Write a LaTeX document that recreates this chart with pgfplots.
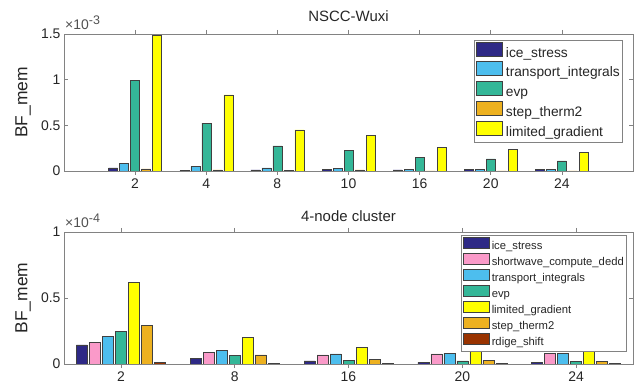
\documentclass[border=0pt]{standalone}
\usepackage{fontspec}
\setmainfont{Liberation Sans}
\usepackage{pgfplots}
\usepackage{pgfplotstable}
\pgfplotsset{compat=1.18}

\definecolor{cice}{RGB}{46,41,134}
\definecolor{ctra}{RGB}{77,190,238}
\definecolor{cevp}{RGB}{52,183,152}
\definecolor{cstep}{RGB}{237,177,32}
\definecolor{clim}{RGB}{255,255,0}
\definecolor{cpink}{RGB}{250,154,201}
\definecolor{crdg}{RGB}{153,51,0}
\definecolor{axgray}{RGB}{130,130,130}
\definecolor{txt}{RGB}{38,38,38}

\pgfplotstableread{
x ice tra evp step lim
1 0.033 0.080 0.990 0.022 1.488
2 0.005 0.050 0.524 0.012 0.834
3 0.012 0.033 0.276 0.010 0.451
4 0.015 0.026 0.227 0.011 0.390
5 0.012 0.020 0.148 0.002 0.260
6 0.018 0.018 0.132 0.001 0.233
7 0.018 0.018 0.110 0.001 0.207
}\topdata

\pgfplotstableread{
x ice pink tra evp lim step rdg
1 0.144 0.161 0.209 0.249 0.620 0.290 0.015
2 0.043 0.088 0.103 0.063 0.204 0.070 0.005
3 0.023 0.070 0.076 0.030 0.128 0.035 0.005
4 0.013 0.076 0.083 0.023 0.123 0.028 0.004
5 0.013 0.078 0.083 0.020 0.113 0.020 0.002
}\botdata

\pgfplotsset{
  mystyle/.style={
    scale only axis, axis on top, ymin=0,
    ybar=2bp,
    tick label style={font=\fontsize{14}{16}\selectfont, text=txt},
    /pgf/number format/assume math mode=true,
    axis line style={draw=axgray, line width=0.6bp},
    tick style={draw=axgray, line width=0.6bp},
    major tick length=4bp,
    ylabel={BF\_mem},
    ylabel style={font=\fontsize{17.5}{20}\selectfont, text=txt, at={(axis description cs:-0.072,0.5)}, anchor=center},
    title style={font=\fontsize{15}{17}\selectfont, text=txt, at={(axis description cs:0.5,1)}, anchor=base},
    every axis plot/.append style={draw=black!75, line width=0.5bp},
    legend cell align=left,
    legend image code/.code={\draw[##1, line width=0.6bp] (0bp,-2.5bp) rectangle (26bp,11.5bp);},
  }
}

\begin{document}
\begin{tikzpicture}
\path[use as bounding box] (0,0) rectangle (636bp,390bp);

\begin{axis}[mystyle, name=top,
  at={(64bp,219bp)}, anchor=south west,
  width=569bp, height=137bp,
  xmin=0, xmax=8, ymax=1.5,
  bar width=9bp,
  xtick={1,...,7}, xticklabels={2,4,8,10,16,20,24},
  ytick={0,0.5,1,1.5}, yticklabels={0,0.5,1,1.5},
  title={NSCC-Wuxi}, title style={yshift=7bp},
  legend style={at={(0.9807,0.956)}, anchor=north east, draw=axgray, fill=white,
    font=\fontsize{13.8}{16}\selectfont, text=txt, inner xsep=2bp, inner ysep=1.5bp,
    row sep=0pt,
    nodes={inner sep=0pt, text height=11.5bp, text depth=4.4bp},
    /tikz/every odd column/.append style={column sep=3bp}},
]
\addplot[fill=cice] table[x=x,y=ice]{\topdata};
\addplot[fill=ctra] table[x=x,y=tra]{\topdata};
\addplot[fill=cevp] table[x=x,y=evp]{\topdata};
\addplot[fill=cstep] table[x=x,y=step]{\topdata};
\addplot[fill=clim] table[x=x,y=lim]{\topdata};
\legend{ice\_stress,transport\_integrals,evp,step\_therm2,limited\_gradient}
\end{axis}
\node[anchor=base west, font=\fontsize{14}{16}\selectfont, text=txt!80, inner sep=0pt, xshift=1bp, yshift=4bp] at (top.north west) {×10\raisebox{5bp}{\fontsize{12.5}{13}\selectfont -3}};

\begin{axis}[mystyle, name=bot,
  at={(64bp,26bp)}, anchor=south west,
  width=569bp, height=132bp,
  xmin=0.5, xmax=5.5, ymax=1,
  bar width=11bp,
  xtick={1,...,5}, xticklabels={2,8,16,20,24},
  ytick={0,0.5,1}, yticklabels={0,0.5,1},
  title={4-node cluster}, title style={yshift=5bp},
  legend image code/.code={\draw[#1, line width=0.6bp] (0bp,-1.7bp) rectangle (26bp,9.3bp);},
  legend style={at={(0.9877,0.977)}, anchor=north east, draw=axgray, fill=white,
    font=\fontsize{11.3}{13}\selectfont, text=txt, inner xsep=2bp, inner ysep=1.5bp,
    row sep=0pt,
    nodes={inner sep=0pt, text height=9.3bp, text depth=3.7bp},
    /tikz/every odd column/.append style={column sep=2bp}},
]
\addplot[fill=cice] table[x=x,y=ice]{\botdata};
\addplot[fill=cpink] table[x=x,y=pink]{\botdata};
\addplot[fill=ctra] table[x=x,y=tra]{\botdata};
\addplot[fill=cevp] table[x=x,y=evp]{\botdata};
\addplot[fill=clim] table[x=x,y=lim]{\botdata};
\addplot[fill=cstep] table[x=x,y=step]{\botdata};
\addplot[fill=crdg] table[x=x,y=rdg]{\botdata};
\legend{ice\_stress,shortwave\_compute\_dedd,transport\_integrals,evp,limited\_gradient,step\_therm2,rdige\_shift}
\end{axis}
\node[anchor=base west, font=\fontsize{14}{16}\selectfont, text=txt!80, inner sep=0pt, xshift=1bp, yshift=4.4bp] at (bot.north west) {×10\raisebox{5bp}{\fontsize{12.5}{13}\selectfont -4}};
\end{tikzpicture}
\end{document}
